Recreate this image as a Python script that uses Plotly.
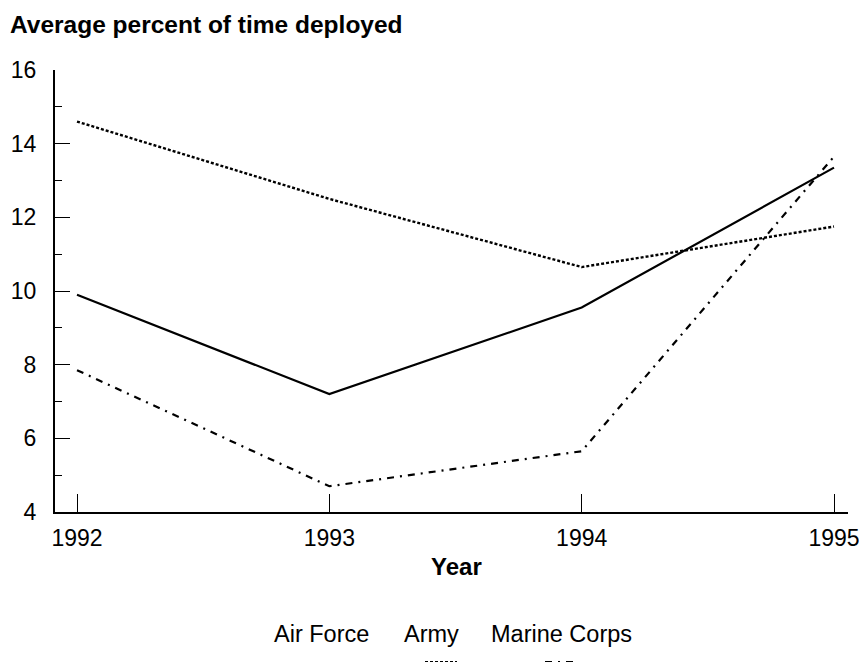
import plotly.graph_objects as go

years = [1992, 1993, 1994, 1995]
air_force = [9.9, 7.2, 9.55, 13.35]
army = [14.6, 12.5, 10.65, 11.75]
marine_corps = [7.85, 4.7, 5.65, 13.65]
series_names = ["Air Force", "Army", "Marine Corps"]
y_ticks = [4, 6, 8, 10, 12, 14, 16]

W, H = 859, 662
L, R, T, B = 55, 11, 70, 150
PW, PH = W - L - R, H - T - B

def px(x):
    return (x - L) / PW

def py(y):
    return (H - B - y) / PH

FONT = "Liberation Sans, Arial, Helvetica, sans-serif"
AF_DASH = "solid"
ARMY_DASH = "3px,2px"
MC_DASH = "7px,6px,2px,6px"

fig = go.Figure()
fig.add_trace(go.Scatter(x=years, y=air_force, mode="lines", name=series_names[0],
                         line=dict(color="black", width=2.2, dash=AF_DASH)))
fig.add_trace(go.Scatter(x=years, y=army, mode="lines", name=series_names[1],
                         line=dict(color="black", width=2.4, dash=ARMY_DASH)))
fig.add_trace(go.Scatter(x=years, y=marine_corps, mode="lines", name=series_names[2],
                         line=dict(color="black", width=2.2, dash=MC_DASH)))

fig.update_layout(
    width=W, height=H,
    margin=dict(l=L, r=R, t=T, b=B, pad=0, autoexpand=False),
    paper_bgcolor="white", plot_bgcolor="white",
    showlegend=False,
    font=dict(family=FONT, color="black", size=23),
    title=dict(text="<b>Average percent of time deployed</b>", x=10 / W, xanchor="left",
               y=1 - 16 / H, yanchor="top", xref="container", yref="container",
               font=dict(size=24.5, family=FONT, color="black")),
    xaxis=dict(range=[1992 - 22 / 252.3, 1995 + 14 / 252.3], tickvals=years,
               ticktext=[str(y) for y in years], showgrid=False, zeroline=False,
               showline=True, linecolor="black", linewidth=2, automargin=False,
               ticks="inside", ticklen=18, tickwidth=1.2, tickcolor="black",
               tickfont=dict(size=23), ticklabelstandoff=4, ticklabeloverflow="allow"),
    yaxis=dict(range=[4, 16], tickvals=y_ticks, showgrid=False, zeroline=False,
               showline=True, linecolor="black", linewidth=2, automargin=False,
               ticks="inside", ticklen=15, tickwidth=1.2, tickcolor="black",
               tickfont=dict(size=23), ticklabelstandoff=12,
               minor=dict(tickvals=[5, 7, 9, 11, 13, 15], ticks="inside", ticklen=7,
                          tickwidth=1.2, tickcolor="black")),
)

fig.add_annotation(text="<b>Year</b>", x=px(456), y=py(566), xref="paper", yref="paper",
                   showarrow=False, xanchor="center", yanchor="middle",
                   font=dict(size=24, family=FONT))

legend_centers = [321, 431, 561]
for name, cx in zip(series_names, legend_centers):
    fig.add_annotation(text=name, x=px(cx), y=py(634), xref="paper", yref="paper",
                       showarrow=False, xanchor="center", yanchor="middle",
                       font=dict(size=23.5, family=FONT))
for cx, sy, dash in zip([320, 441, 561], [667, 662, 662], [AF_DASH, ARMY_DASH, MC_DASH]):
    fig.add_shape(type="line", xref="paper", yref="paper",
                  x0=px(cx - 16), x1=px(cx + 16), y0=py(sy), y1=py(sy),
                  line=dict(color="black", width=2, dash=dash))

fig.write_html("out.html", config={"displayModeBar": False},
               post_script="document.body.style.margin='0';")
